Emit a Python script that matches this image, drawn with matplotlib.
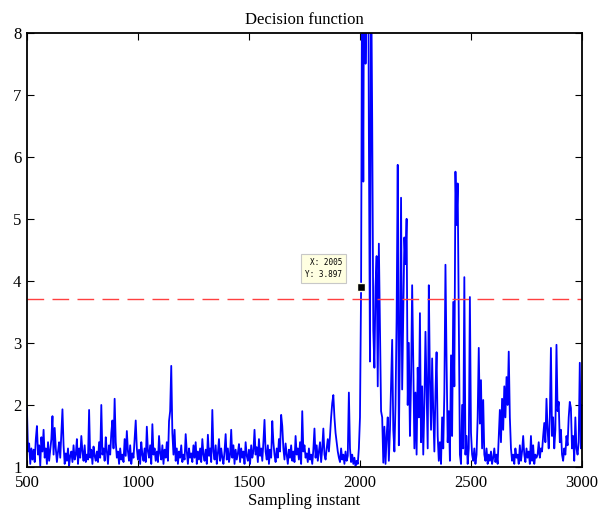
import matplotlib
matplotlib.use('Agg')
import matplotlib.pyplot as plt
import numpy as np

# decision function, one value every 5 samples from 500 to 3000
decision = [
    1.95, 1.25, 1.38, 1.05, 1.30, 1.12, 1.28, 1.08, 1.45, 1.66,   # 500
    1.20, 1.35, 1.02, 1.48, 1.25, 1.60, 1.15, 1.30, 1.05, 1.40,   # 550
    1.10, 1.28, 1.45, 1.82, 1.20, 1.63, 1.30, 1.08, 1.25, 1.40,   # 600
    1.15, 1.55, 1.93, 1.35, 1.05, 1.22, 1.10, 1.30, 1.02, 1.18,   # 650
    1.25, 1.08, 1.35, 1.12, 1.20, 1.45, 1.05, 1.30, 1.15, 1.50,   # 700
    1.25, 1.10, 1.35, 1.08, 1.20, 1.12, 1.92, 1.15, 1.28, 1.05,   # 750
    1.33, 1.18, 1.10, 1.25, 1.08, 1.40, 1.15, 2.00, 1.20, 1.30,   # 800
    1.10, 1.48, 1.25, 1.05, 1.35, 1.20, 1.55, 1.75, 1.30, 2.10,   # 850
    1.40, 1.15, 1.25, 1.05, 1.30, 1.12, 1.20, 1.08, 1.45, 1.18,   # 900
    1.58, 1.25, 1.10, 1.35, 1.05, 1.22, 1.15, 1.45, 1.75, 1.30,   # 950
    1.12, 1.28, 1.05, 1.40, 1.20, 1.10, 1.30, 1.08, 1.65, 1.25,   # 1000
    1.15, 1.35, 1.05, 1.69, 1.20, 1.30, 1.10, 1.25, 1.08, 1.50,   # 1050
    1.22, 1.12, 1.35, 1.05, 1.28, 1.15, 1.40, 1.10, 1.74, 1.90,   # 1100
    2.63, 1.55, 1.20, 1.60, 1.10, 1.30, 1.05, 1.25, 1.15, 1.35,   # 1150
    1.08, 1.20, 1.12, 1.53, 1.25, 1.05, 1.30, 1.15, 1.22, 1.08,   # 1200
    1.35, 1.15, 1.40, 1.05, 1.25, 1.12, 1.30, 1.08, 1.45, 1.20,   # 1250
    1.10, 1.28, 1.05, 1.52, 1.18, 1.30, 1.08, 1.92, 1.25, 1.12,   # 1300
    1.35, 1.05, 1.22, 1.45, 1.10, 1.30, 1.15, 1.05, 1.25, 1.53,   # 1350
    1.12, 1.30, 1.08, 1.20, 1.60, 1.15, 1.35, 1.05, 1.28, 1.12,   # 1400
    1.22, 1.37, 1.08, 1.30, 1.15, 1.25, 1.05, 1.40, 1.18, 1.10,   # 1450
    1.28, 1.05, 1.35, 1.15, 1.25, 1.60, 1.20, 1.32, 1.08, 1.45,   # 1500
    1.18, 1.30, 1.10, 1.40, 1.76, 1.25, 1.12, 1.35, 1.05, 1.28,   # 1550
    1.15, 1.74, 1.40, 1.20, 1.08, 1.30, 1.15, 1.45, 1.25, 1.84,   # 1600
    1.66, 1.30, 1.12, 1.38, 1.20, 1.05, 1.28, 1.15, 1.35, 1.10,   # 1650
    1.25, 1.08, 1.50, 1.20, 1.30, 1.12, 1.40, 1.05, 1.90, 1.25,   # 1700
    1.35, 1.15, 1.22, 1.08, 1.30, 1.12, 1.20, 1.05, 1.28, 1.62,   # 1750
    1.15, 1.35, 1.10, 1.25, 1.40, 1.08, 1.30, 1.62, 1.20, 1.12,   # 1800
    1.30, 1.45, 1.25, 1.50, 1.80, 2.03, 2.16, 1.80, 1.55, 1.40,   # 1850
    1.25, 1.15, 1.08, 1.30, 1.12, 1.20, 1.05, 1.25, 1.10, 1.18,   # 1900
    2.20, 1.30, 1.08, 1.20, 1.05, 1.15, 1.02, 1.10, 1.05, 1.30,   # 1950
    1.80, 3.897, 9.80, 5.60, 11.5, 7.50, 8.90, 12.0, 6.40, 2.70,  # 2000
    9.20, 6.60, 3.20, 2.60, 3.90, 4.40, 2.30, 4.60, 3.20, 1.90,   # 2050
    1.80, 1.07, 1.65, 1.05, 1.50, 1.80, 1.10, 1.60, 2.30, 3.05,   # 2100
    1.60, 1.25, 2.00, 3.40, 5.87, 1.35, 3.00, 5.34, 2.25, 3.50,   # 2150
    4.70, 4.27, 5.00, 2.00, 3.00, 1.50, 2.40, 3.93, 2.70, 1.30,   # 2200
    2.20, 1.20, 2.60, 1.80, 3.48, 1.40, 2.30, 1.20, 2.00, 3.18,   # 2250
    2.20, 1.30, 3.93, 2.40, 1.60, 2.75, 1.90, 1.25, 2.20, 2.85,   # 2300
    1.50, 1.10, 1.40, 1.05, 1.80, 1.30, 2.20, 4.26, 2.70, 1.40,   # 2350
    1.90, 1.10, 2.80, 1.50, 3.66, 2.30, 5.76, 4.90, 5.57, 3.30,   # 2400
    1.20, 1.05, 2.00, 1.30, 4.06, 1.20, 1.50, 1.05, 1.30, 3.74,   # 2450
    1.55, 1.20, 1.10, 1.30, 1.05, 1.20, 1.80, 2.92, 1.70, 2.40,   # 2500
    1.30, 2.08, 1.20, 1.10, 1.30, 1.05, 1.20, 1.10, 1.25, 1.05,   # 2550
    1.15, 1.30, 1.08, 1.20, 1.05, 1.50, 1.92, 1.40, 2.10, 1.60,   # 2600
    2.30, 1.80, 2.45, 2.00, 2.86, 1.80, 1.30, 1.10, 1.20, 1.05,   # 2650
    1.30, 1.15, 1.20, 1.05, 1.35, 1.10, 1.25, 1.50, 1.20, 1.08,   # 2700
    1.30, 1.15, 1.25, 1.05, 1.50, 1.10, 1.35, 1.05, 1.20, 1.15,   # 2750
    1.20, 1.40, 1.15, 1.30, 1.25, 1.50, 1.71, 1.40, 2.10, 1.60,   # 2800
    1.30, 1.80, 2.92, 1.50, 1.80, 1.30, 1.60, 2.97, 1.90, 2.05,   # 2850
    1.40, 1.60, 1.20, 1.10, 1.30, 1.20, 1.50, 1.35, 1.80, 2.05,   # 2900
    1.95, 1.30, 1.50, 1.10, 1.80, 1.30, 1.20, 1.40, 2.68, 1.30,   # 2950
    2.00,                                                         # 3000
]
samples = np.arange(500, 3001, 5)

threshold = 3.7
tip_x = 2005
tip_y = 3.897

plt.rcParams['font.family'] = ['Liberation Serif', 'DejaVu Serif']

fig = plt.figure(figsize=(6.12, 5.14), dpi=100)
ax = fig.add_axes([0.044, 0.0914, 0.907, 0.845])

ax.plot(samples, decision, color='b', linewidth=1.3)
ax.axhline(threshold, color='#ff4040', linewidth=1.0, dashes=(12, 6))

# data tip
ax.plot([tip_x], [tip_y], 's', color='k', markersize=6,
        markeredgecolor='#fffff0', markeredgewidth=1.0, zorder=5)
ax.annotate('X: %d\nY: %.3f' % (tip_x, tip_y), xy=(tip_x, tip_y),
            xytext=(-19, 8), textcoords='offset pixels',
            ha='right', va='bottom', fontsize=5.5,
            family='DejaVu Sans Mono', linespacing=1.5,
            bbox=dict(boxstyle='square,pad=0.55', facecolor='#ffffe1',
                      edgecolor='#c8c8c8', linewidth=0.8), zorder=6)

ax.set_xlim(500, 3000)
ax.set_ylim(1, 8)
ax.set_xticks([500, 1000, 1500, 2000, 2500, 3000])
ax.set_yticks([1, 2, 3, 4, 5, 6, 7, 8])
ax.tick_params(direction='in', top=True, right=True, length=5,
               width=0.8, labelsize=12)
ax.tick_params(axis='x', pad=6)
ax.tick_params(axis='y', pad=4)
for spine in ax.spines.values():
    spine.set_linewidth(1.3)

ax.set_title('Decision function', fontsize=12, pad=6)
ax.set_xlabel('Sampling instant', fontsize=12, labelpad=1)

fig.savefig('out.png', dpi=100)
